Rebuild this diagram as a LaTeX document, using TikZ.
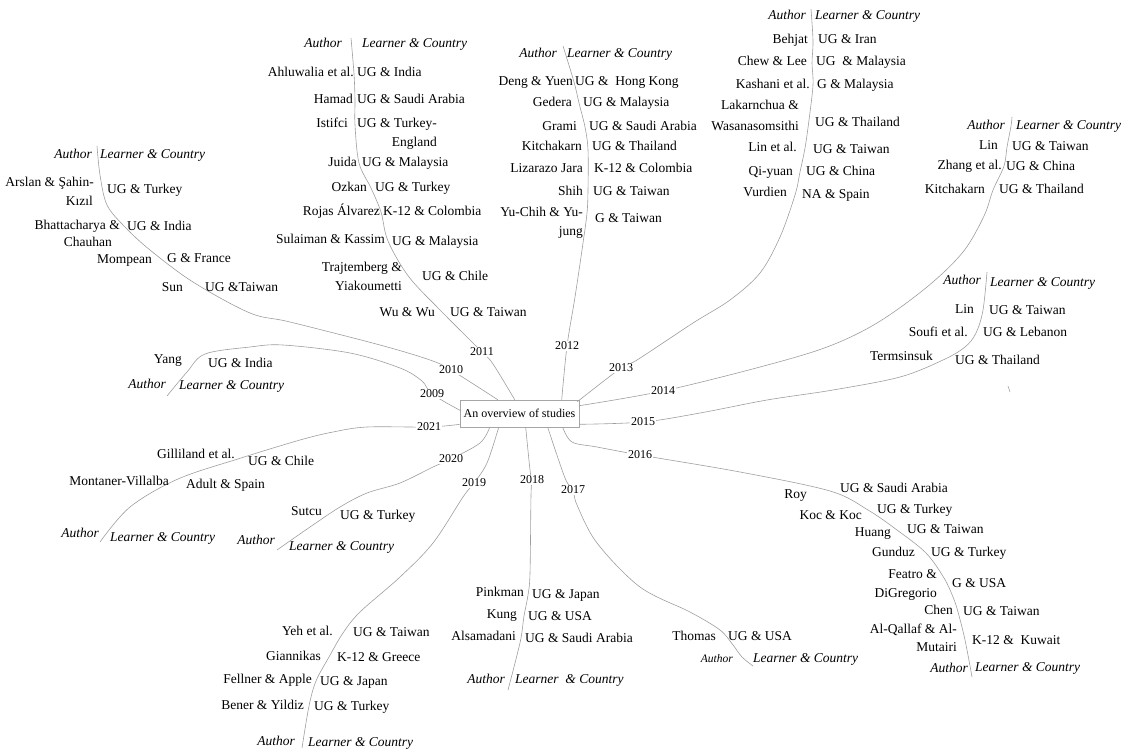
\documentclass[tikz,border=0pt]{standalone}
\usepackage{fontspec}
\setmainfont{Liberation Serif}
\usetikzlibrary{calc}
\newcommand\lstfont{\fontsize{13.5}{16}\selectfont}
\newcommand\hdfont{\fontsize{13.5}{16}\selectfont\itshape}
\newcommand\smhdfont{\fontsize{11.5}{14}\selectfont\itshape}
\newcommand\yrfont{\fontsize{12}{14}\selectfont}
\tikzset{
  br/.style={draw=black!38, line width=0.6pt},
  yr/.style={fill=white, inner sep=1pt, font=\yrfont},
  au/.style={anchor=east, inner sep=0pt, text height=9pt, text depth=3pt, font=\lstfont},
  lc/.style={anchor=west, inner sep=0pt, text height=9pt, text depth=3pt, font=\lstfont},
  hau/.style={au, font=\hdfont},
  hlc/.style={lc, font=\hdfont},
  ovbox/.style={draw=black!35, line width=0.6pt, fill=white, minimum width=119pt, minimum height=27pt, inner sep=1pt, font=\yrfont},
}
\begin{document}
\begin{tikzpicture}[x=1pt,y=-1pt]
\useasboundingbox (0,0) rectangle (1131,752);
\node[ovbox] (ov) at (519.5,413.5) {An overview of studies};
% year positions
\coordinate (p2009) at (432,394);
\coordinate (p2010) at (451,370);
\coordinate (p2011) at (482,352);
\coordinate (p2012) at (567,346);
\coordinate (p2013) at (621,368);
\coordinate (p2014) at (663,391);
\coordinate (p2015) at (643,422);
\coordinate (p2016) at (640,455);
\coordinate (p2017) at (573,490);
\coordinate (p2018) at (532,480);
\coordinate (p2019) at (474,483);
\coordinate (p2020) at (451,459);
\coordinate (p2021) at (429,427);
% branch ends
\coordinate (e2009) at (167,396);
\coordinate (e2010) at (97,146);
\coordinate (e2011) at (351,38);
\coordinate (e2012) at (563,46);
\coordinate (e2013) at (811,9);
\coordinate (e2014) at (1012,117);
\coordinate (e2015) at (987,272);
\coordinate (e2016) at (972,677);
\coordinate (e2017) at (753,666);
\coordinate (e2018) at (508,690);
\coordinate (e2019) at (302,748);
\coordinate (e2020) at (277,550);
\coordinate (e2021) at (100,542);
\coordinate (m1) at (1008,386);
\coordinate (m2) at (1010,392);
% branches
\draw[br] plot[smooth, tension=0.55] coordinates {($(ov.north west)+(1,11)$) (p2009) (422,381) (400,368) (350,353) (283,345) (250,347) (205,354) (187,372) (e2009)};
\draw[br] plot[smooth, tension=0.55] coordinates {($(ov.north west)+(38,0)$) (p2010) (430,360) (380,345) (290,322) (250,313) (193,282) (150,250) (125,227) (107,205) (100,175) (e2010)};
\draw[br] plot[smooth, tension=0.55] coordinates {($(ov.north west)+(55,0)$) (493,364) (p2011) (443,313) (409,277) (388,241) (381,212) (371,188) (359,163) (355,125) (355,100) (354,74) (e2011)};
\draw[br] plot[smooth, tension=0.55] coordinates {($(ov.north west)+(102,0)$) (p2012) (575,297) (583,243) (587,213) (588,190) (588,150) (585,127) (579,103) (574,82) (e2012)};
\draw[br] plot[smooth, tension=0.55] coordinates {($(ov.north east)+(-2,2)$) (p2013) (637,360) (693,323) (730,300) (760,273) (780,237) (795,195) (800,172) (805,148) (809,120) (813,85) (812,63) (813,41) (e2013)};
\draw[br] plot[smooth, tension=0.55] coordinates {($(ov.north east)+(0,6)$) (p2014) (760,367) (827,347) (877,323) (927,287) (963,252) (984,216) (993,190) (1004,166) (1007,147) (1011,126) (e2014)};
\draw[br] plot[smooth, tension=0.55] coordinates {($(ov.south east)+(0,-3)$) (p2015) (700,413) (767,400) (833,390) (900,377) (943,360) (965,347) (976,333) (983,310) (e2015)};
\draw[br] plot[smooth, tension=0.55] coordinates {($(ov.south west)+(103,0)$) (572,442) (597,447) (p2016) (740,472) (830,491) (868,510) (897,530) (926,553) (944,578) (953,597) (958,612) (965,640) (e2016)};
\draw[br] plot[smooth, tension=0.55] coordinates {($(ov.south west)+(88,0)$) (565,478) (p2017) (577,505) (597,543) (640,587) (690,612) (720,630) (733,645) (742,657) (e2017)};
\draw[br] plot[smooth, tension=0.55] coordinates {($(ov.south west)+(66,0)$) (530,470) (p2018) (531,495) (530,573) (528,595) (524,616) (521,638) (515,663) (e2018)};
\draw[br] plot[smooth, tension=0.55] coordinates {($(ov.south west)+(39,0)$) (487,463) (p2019) (463,497) (433,543) (400,577) (360,612) (343,633) (329,657) (316,681) (309,706) (e2019)};
\draw[br] plot[smooth, tension=0.55] coordinates {($(ov.south west)+(30,0)$) (480,443) (p2020) (433,467) (400,483) (367,493) (340,507) (310,527) (e2020)};
\draw[br] plot[smooth, tension=0.55] coordinates {($(ov.south west)+(0,-3)$) (p2021) (367,427) (333,432) (300,440) (241,458) (178,479) (130,507) (e2021)};
\draw[br] (m1) -- (m2);
% year labels
\foreach \yy in {2009,2010,2011,2012,2013,2014,2015,2016,2017,2018,2019,2020,2021}
  \node[yr] (y\yy) at (p\yy) {\yy};
% 2009
\node[au] (a09a) at (182,360) {Yang};
\node[lc] (l09a) at (208,364) {UG \& India};
\node[hau] (a09h) at (166,385) {Author};
\node[hlc] (l09h) at (179,386) {Learner \& Country};
% 2010
\node[hau] (a10h) at (92,155) {Author};
\node[hlc] (l10h) at (100,155) {Learner \& Country};
\node[au] (a10a) at (94,183) {Arslan \& Şahin-};
\node[au] (a10a2) at (93,202) {Kızıl};
\node[lc] (l10a) at (107,190) {UG \& Turkey};
\node[au] (a10b) at (120,226) {Bhattacharya \&};
\node[au] (a10b2) at (112,243) {Chauhan};
\node[lc] (l10b) at (127,227) {UG \& India};
\node[au] (a10c) at (152,260) {Mompean};
\node[lc] (l10c) at (167,259) {G \& France};
\node[au] (a10d) at (183,288) {Sun};
\node[lc] (l10d) at (205,288) {UG \&Taiwan};
% 2011
\node[hau] (a11h) at (342,45) {Author};
\node[hlc] (l11h) at (362,45) {Learner \& Country};
\node[au] (a11a) at (354,74) {Ahluwalia et al.};
\node[lc] (l11a) at (357,74) {UG \& India};
\node[au] (a11b) at (353,100) {Hamad};
\node[lc] (l11b) at (357,100) {UG \& Saudi Arabia};
\node[au] (a11c) at (348,124) {Istifci};
\node[lc] (l11c) at (357,124) {UG \& Turkey-};
\node[au] (l11c2) at (437,143) {England};
\node[au] (a11d) at (357,163) {Juida};
\node[lc] (l11d) at (362,163) {UG \& Malaysia};
\node[au] (a11e) at (367,188) {Ozkan};
\node[lc] (l11e) at (375,188) {UG \& Turkey};
\node[au] (a11f) at (380,212) {Rojas Álvarez};
\node[lc] (l11f) at (383,212) {K-12 \& Colombia};
\node[au] (a11g) at (385,240) {Sulaiman \& Kassim};
\node[lc] (l11g) at (392,242) {UG \& Malaysia};
\node[au] (a11i) at (402,268) {Trajtemberg \&};
\node[au] (a11i2) at (402,287) {Yiakoumetti};
\node[lc] (l11i) at (422,277) {UG \& Chile};
\node[au] (a11j) at (435,313) {Wu \& Wu};
\node[lc] (l11j) at (450,313) {UG \& Taiwan};
% 2012
\node[hau] (a12h) at (557,54) {Author};
\node[hlc] (l12h) at (567,54) {Learner \& Country};
\node[au] (a12a) at (573,82) {Deng \& Yuen};
\node[lc] (l12a) at (575,82) {UG \& \ Hong Kong};
\node[au] (a12b) at (572,103) {Gedera};
\node[lc] (l12b) at (583,103) {UG \& Malaysia};
\node[au] (a12c) at (577,127) {Grami};
\node[lc] (l12c) at (589,127) {UG \& Saudi Arabia};
\node[au] (a12d) at (582,147) {Kitchakarn};
\node[lc] (l12d) at (592,147) {UG \& Thailand};
\node[au] (a12e) at (583,169) {Lizarazo Jara};
\node[lc] (l12e) at (594,169) {K-12 \& Colombia};
\node[au] (a12f) at (583,192) {Shih};
\node[lc] (l12f) at (593,192) {UG \& Taiwan};
\node[au] (a12g) at (583,213) {Yu-Chih \& Yu-};
\node[au] (a12g2) at (583,232) {jung};
\node[lc] (l12g) at (595,219) {G \& Taiwan};
% 2013
\node[hau] (a13h) at (806,17) {Author};
\node[hlc] (l13h) at (815,17) {Learner \& Country};
\node[au] (a13a) at (808,41) {Behjat};
\node[lc] (l13a) at (818,41) {UG \& Iran};
\node[au] (a13b) at (807,63) {Chew \& Lee};
\node[lc] (l13b) at (816,63) {UG \ \& Malaysia};
\node[au] (a13c) at (810,85) {Kashani et al.};
\node[lc] (l13c) at (817,85) {G \& Malaysia};
\node[au] (a13d) at (799,106) {Lakarnchua \&};
\node[au] (a13d2) at (799,127) {Wasanasomsithi};
\node[lc] (l13d) at (815,123) {UG \& Thailand};
\node[au] (a13e) at (797,148) {Lin et al.};
\node[lc] (l13e) at (813,150) {UG \& Taiwan};
\node[au] (a13f) at (793,172) {Qi-yuan};
\node[lc] (l13f) at (806,172) {UG \& China};
\node[au] (a13g) at (787,193) {Vurdien};
\node[lc] (l13g) at (802,195) {NA \& Spain};
% 2014
\node[hau] (a14h) at (1005,126) {Author};
\node[hlc] (l14h) at (1016,126) {Learner \& Country};
\node[au] (a14a) at (998,146) {Lin};
\node[lc] (l14a) at (1012,147) {UG \& Taiwan};
\node[au] (a14b) at (1002,166) {Zhang et al.};
\node[lc] (l14b) at (1006,167) {UG \& China};
\node[au] (a14c) at (985,190) {Kitchakarn};
\node[lc] (l14c) at (999,190) {UG \& Thailand};
% 2015
\node[hau] (a15h) at (981,281) {Author};
\node[hlc] (l15h) at (990,283) {Learner \& Country};
\node[au] (a15a) at (974,310) {Lin};
\node[lc] (l15a) at (989,311) {UG \& Taiwan};
\node[au] (a15b) at (968,333) {Soufi et al.};
\node[lc] (l15b) at (983,333) {UG \& Lebanon};
\node[au] (a15c) at (933,357) {Termsinsuk};
\node[lc] (l15c) at (955,361) {UG \& Thailand};
% 2016
\node[au] (a16a) at (807,495) {Roy};
\node[lc] (l16a) at (840,489) {UG \& Saudi Arabia};
\node[au] (a16b) at (862,516) {Koc \& Koc};
\node[lc] (l16b) at (877,510) {UG \& Turkey};
\node[au] (a16c) at (891,533) {Huang};
\node[lc] (l16c) at (907,530) {UG \& Taiwan};
\node[au] (a16d) at (915,553) {Gunduz};
\node[lc] (l16d) at (931,553) {UG \& Turkey};
\node[au] (a16e) at (937,575) {Featro \&};
\node[au] (a16e2) at (937,594) {DiGregorio};
\node[lc] (l16e) at (952,584) {G \& USA};
\node[au] (a16f) at (953,611) {Chen};
\node[lc] (l16f) at (963,612) {UG \& Taiwan};
\node[au] (a16g) at (957,630) {Al-Qallaf \& Al-};
\node[au] (a16g2) at (957,648) {Mutairi};
\node[lc] (l16g) at (972,641) {K-12 \& \ Kuwait};
\node[hau] (a16h) at (968,669) {Author};
\node[hlc] (l16h) at (975,668) {Learner \& Country};
% 2017
\node[au] (a17a) at (716,637) {Thomas};
\node[lc] (l17a) at (728,637) {UG \& USA};
\node[au, font=\smhdfont] (a17h) at (733,659) {Author};
\node[hlc] (l17h) at (753,659) {Learner \& Country};
% 2018
\node[au] (a18a) at (524,593) {Pinkman};
\node[lc] (l18a) at (532,595) {UG \& Japan};
\node[au] (a18b) at (517,615) {Kung};
\node[lc] (l18b) at (528,617) {UG \& USA};
\node[au] (a18c) at (516,637) {Alsamadani};
\node[lc] (l18c) at (525,639) {UG \& Saudi Arabia};
\node[hau] (a18h) at (505,680) {Author};
\node[hlc] (l18h) at (515,680) {Learner \ \& Country};
% 2019
\node[au] (a19a) at (333,632) {Yeh et al.};
\node[lc] (l19a) at (353,633) {UG \& Taiwan};
\node[au] (a19b) at (321,657) {Giannikas};
\node[lc] (l19b) at (337,658) {K-12 \& Greece};
\node[au] (a19c) at (312,680) {Fellner \& Apple};
\node[lc] (l19c) at (320,682) {UG \& Japan};
\node[au] (a19d) at (304,706) {Bener \& Yildiz};
\node[lc] (l19d) at (314,707) {UG \& Turkey};
\node[hau] (a19h) at (295,742) {Author};
\node[hlc] (l19h) at (308,743) {Learner \& Country};
% 2020
\node[au] (a20a) at (322,512) {Sutcu};
\node[lc] (l20a) at (340,516) {UG \& Turkey};
\node[hau] (a20h) at (275,541) {Author};
\node[hlc] (l20h) at (289,547) {Learner \& Country};
% 2021
\node[au] (a21a) at (235,455) {Gilliland et al.};
\node[lc] (l21a) at (248,462) {UG \& Chile};
\node[au] (a21b) at (169,482) {Montaner-Villalba};
\node[lc] (l21b) at (186,485) {Adult \& Spain};
\node[hau] (a21h) at (99,534) {Author};
\node[hlc] (l21h) at (110,538) {Learner \& Country};
\end{tikzpicture}
\end{document}
